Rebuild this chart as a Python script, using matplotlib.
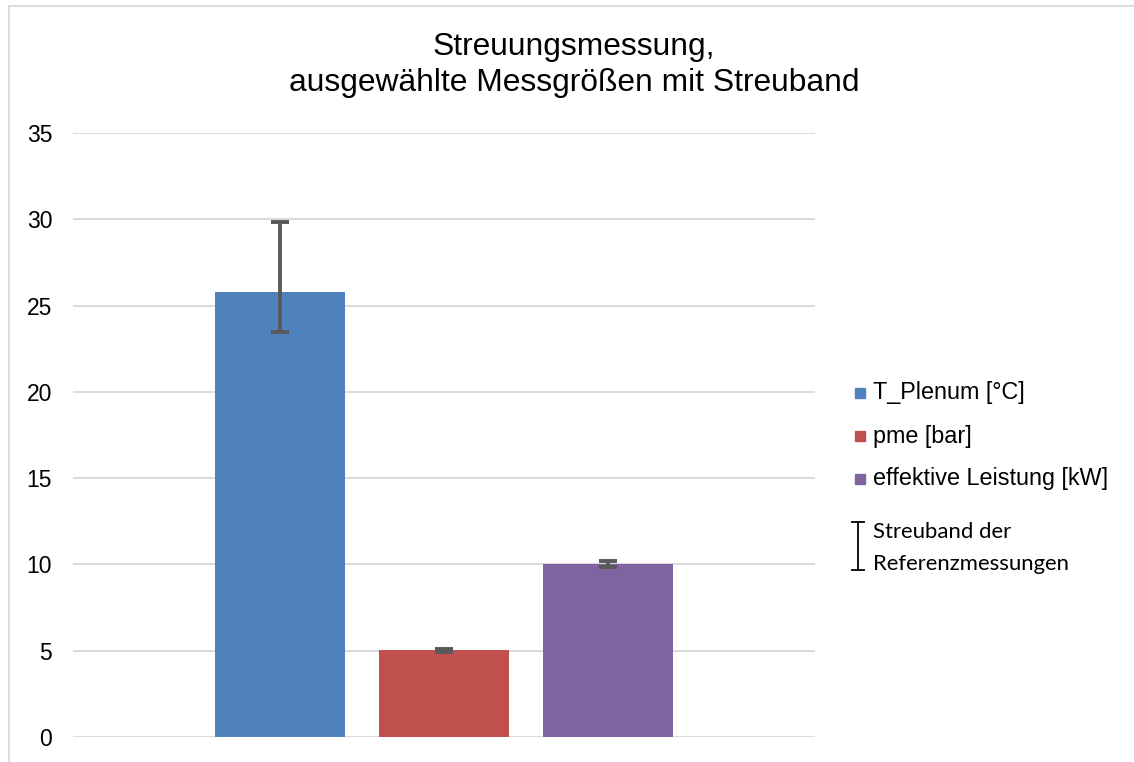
import matplotlib
matplotlib.use("Agg")
import matplotlib.pyplot as plt
from matplotlib.patches import Rectangle
from matplotlib.lines import Line2D

# Messgrößen und Werte
series_names = ["T_Plenum [°C]", "pme [bar]", "effektive Leistung [kW]"]
values = [25.8, 5.05, 10.05]
band_low = [23.45, 4.95, 9.85]
band_high = [29.85, 5.12, 10.22]
colors = ["#4f81bd", "#c0504d", "#8064a2"]
yticks = [0, 5, 10, 15, 20, 25, 30, 35]

W, H = 1134, 762
fig = plt.figure(figsize=(W / 100, H / 100), dpi=100)
plt.rcParams["font.family"] = ["Liberation Sans", "DejaVu Sans"]


def fx(px):
    return px / W


def fy(py):
    return 1 - py / H


ax = fig.add_axes([fx(73), fy(737), fx(815) - fx(73), fy(133) - fy(737)])

pos = list(range(len(values)))
width = 130 / 164
ax.bar(pos, values, width=width, color=colors, zorder=2)
err_lo = [v - lo for v, lo in zip(values, band_low)]
err_hi = [hi - v for v, hi in zip(values, band_high)]
ax.errorbar(pos, values, yerr=[err_lo, err_hi], fmt="none", ecolor="#595959",
            elinewidth=2.8, capsize=6.5, capthick=2.8, zorder=3)

ax.set_xlim(1 - 2.262, 1 + 2.262)
ax.set_ylim(0, 35)
ax.set_yticks(yticks)
ax.set_yticklabels([str(t) for t in yticks], fontsize=16.5)
ax.set_xticks([])
ax.tick_params(axis="y", length=0, pad=15)
ax.grid(axis="y", color="#d9d9d9", linewidth=1.4, zorder=0)
for s in ax.spines.values():
    s.set_visible(False)

fig.text(fx(574), fy(65), "Streuungsmessung,\nausgewählte Messgrößen mit Streuband",
         ha="center", va="center", fontsize=22.9, linespacing=1.28)

# Legende
rows = [393, 436, 479]
for name, col, r in zip(series_names, colors, rows):
    fig.add_artist(Rectangle((fx(855), fy(r + 5)), fx(10), fy(r - 5) - fy(r + 5),
                             transform=fig.transFigure, color=col))
    fig.text(fx(873), fy(r), name, ha="left", va="center", fontsize=16.8)

# Symbol für Streuband
ib = "#000000"
fig.add_artist(Line2D([fx(858), fx(858)], [fy(522), fy(570)], color=ib, lw=1.3,
                      transform=fig.transFigure))
for yy in (522, 570):
    fig.add_artist(Line2D([fx(852), fx(864)], [fy(yy), fy(yy)], color=ib, lw=1.3,
                          transform=fig.transFigure))
fig.text(fx(873), fy(532), "Streuband der", ha="left", va="center", fontsize=15.9,
         family=["Lato", "DejaVu Sans"])
fig.text(fx(873), fy(564), "Referenzmessungen", ha="left", va="center", fontsize=15.9,
         family=["Lato", "DejaVu Sans"])

# Rahmen
fig.add_artist(Line2D([fx(9), fx(9)], [fy(6), 0], color="#d9d9d9", lw=1.3,
                      transform=fig.transFigure))
fig.add_artist(Line2D([fx(9), 1], [fy(6), fy(6)], color="#d9d9d9", lw=1.3,
                      transform=fig.transFigure))

fig.savefig("out.png", dpi=100)
